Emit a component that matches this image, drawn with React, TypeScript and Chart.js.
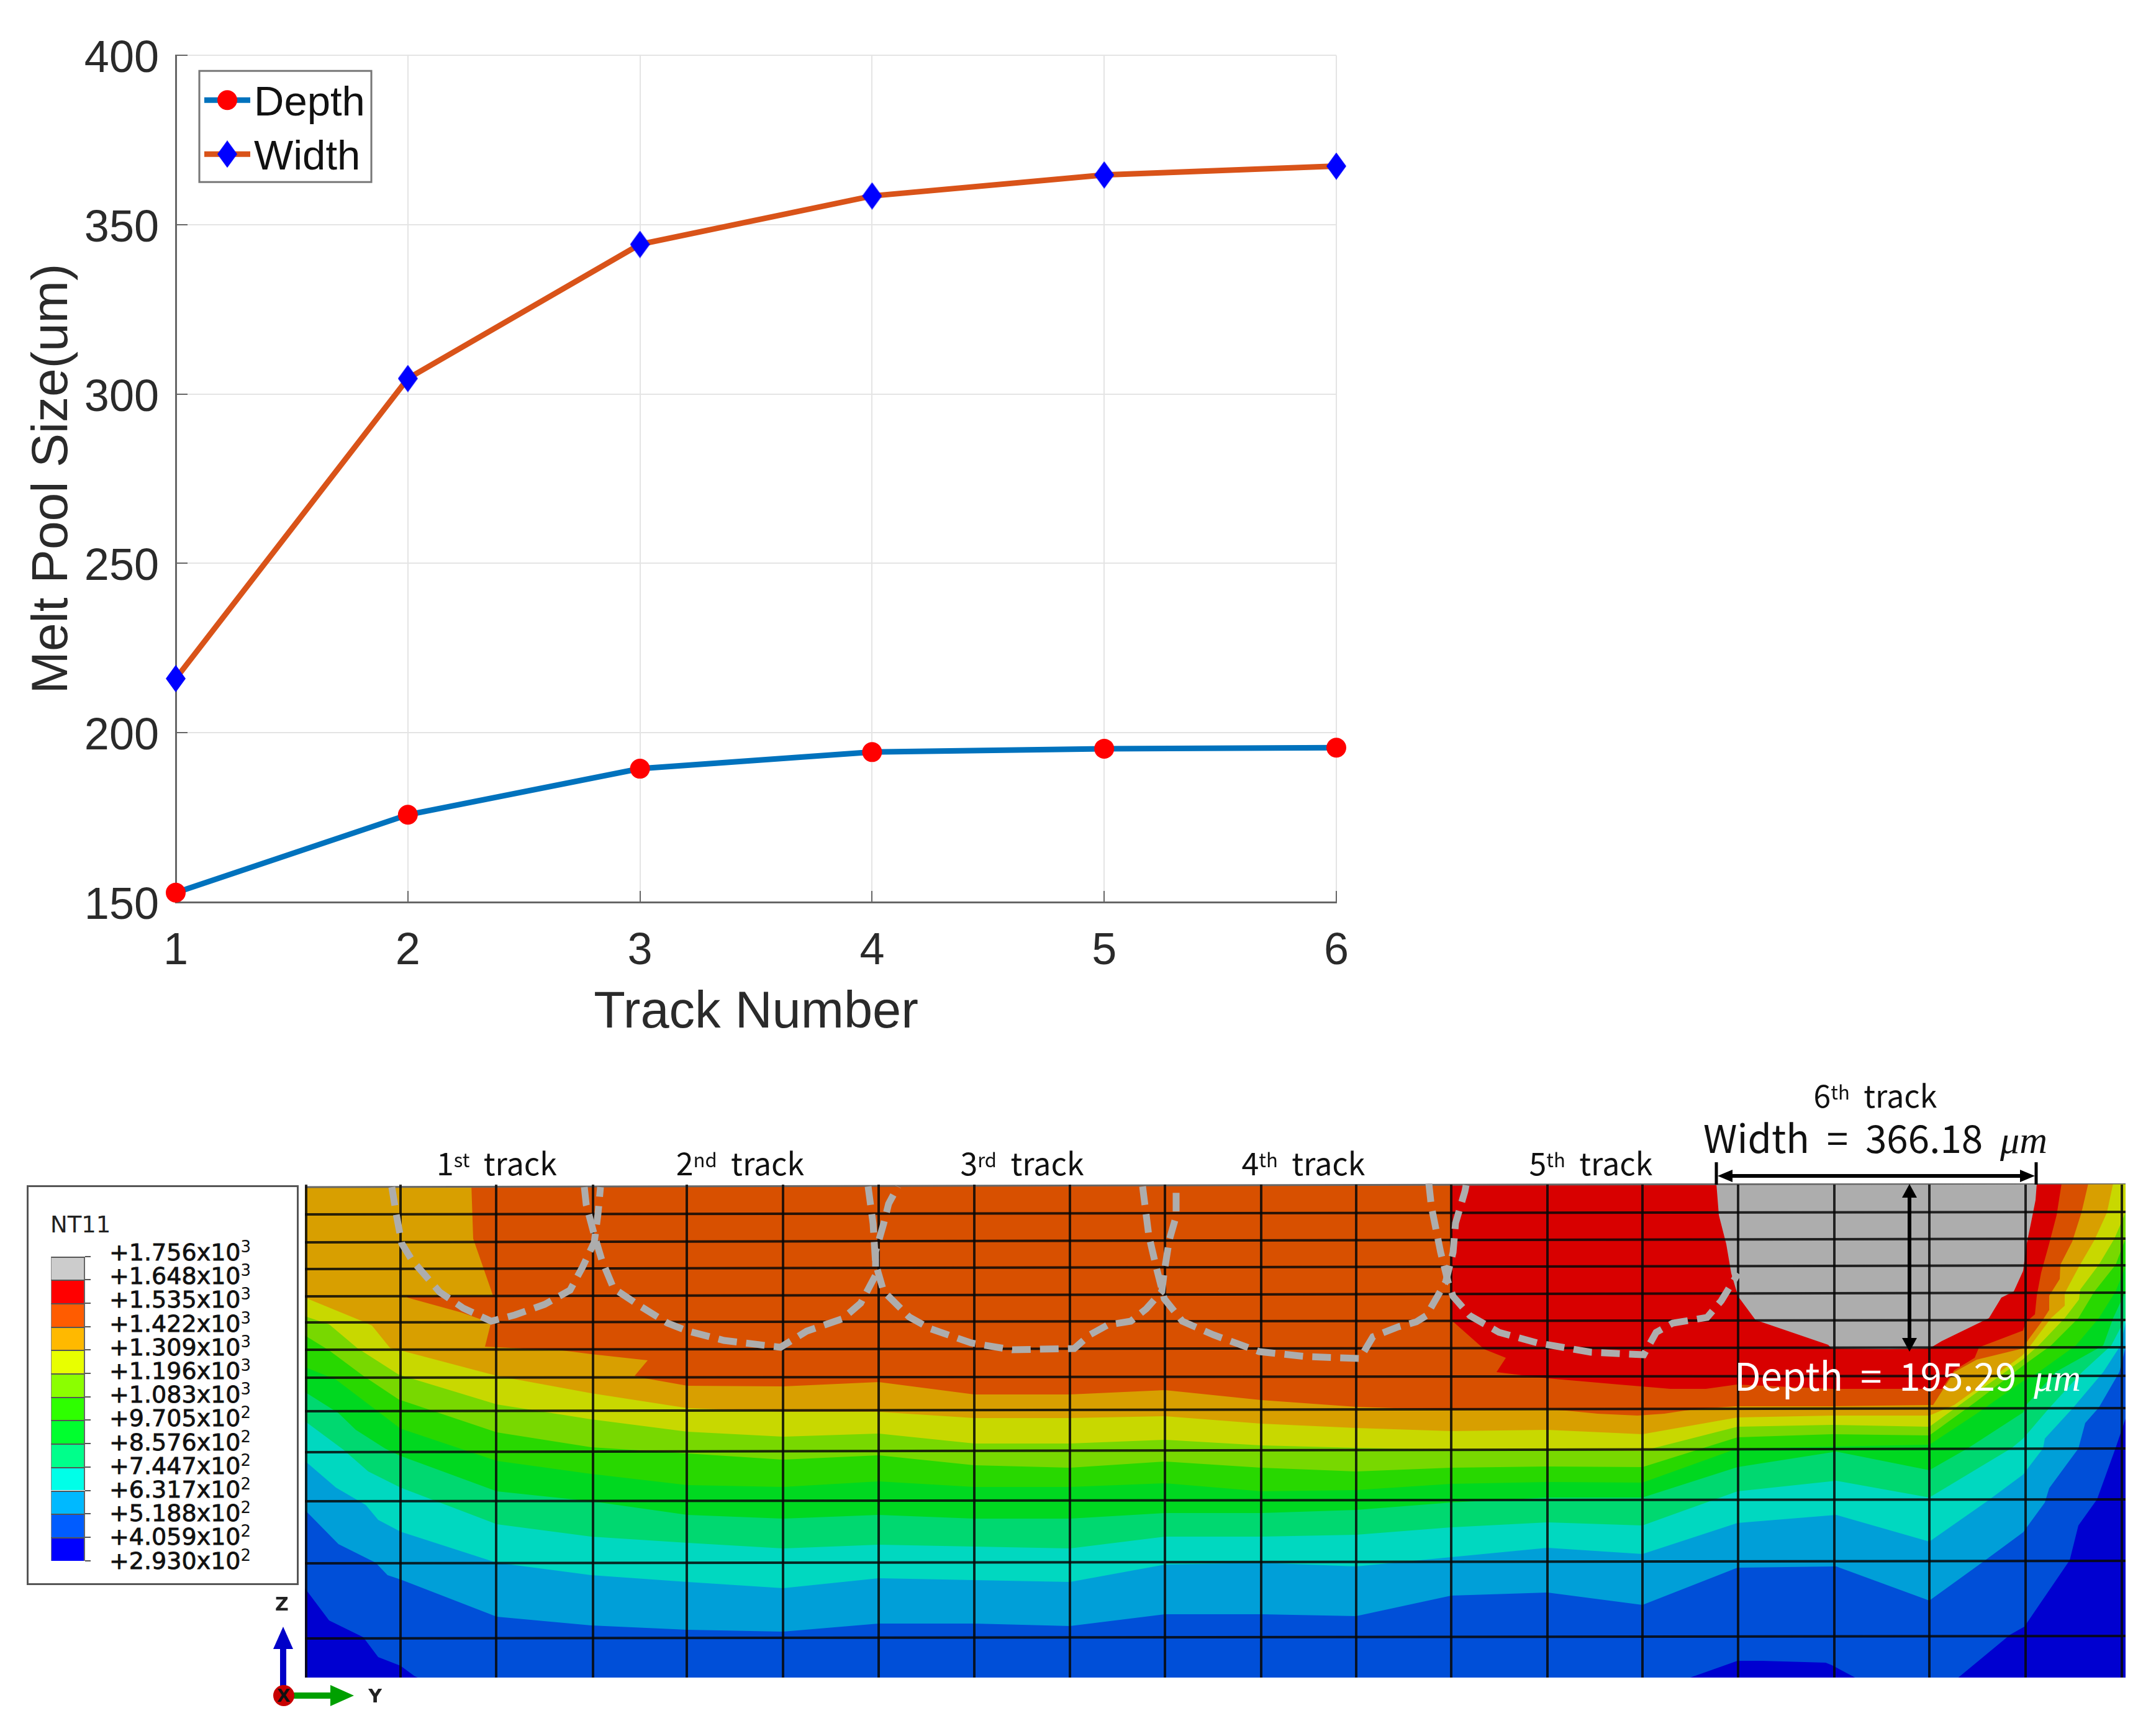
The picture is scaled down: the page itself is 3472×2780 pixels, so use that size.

import React, { useEffect, useRef } from "react";
import { Chart, registerables } from "chart.js";
Chart.register(...registerables);

// ---------- upper line chart ----------
const trackNumbers = ["1", "2", "3", "4", "5", "6"];
const depthValues = [152.8, 175.8, 189.4, 194.3, 195.3, 195.6];
const widthValues = [216, 304.6, 344.2, 358.5, 364.7, 367.3];
const yTicks = [150, 200, 250, 300, 350, 400];
const DEPTH_LINE = "#0072BD";
const WIDTH_LINE = "#D95319";

// ---------- contour section (model Y, model Z) ----------
type P = [number, number];
const meshColumns = [493, 645, 799, 955, 1106, 1261, 1415, 1569, 1723, 1876, 2031, 2184, 2337, 2492, 2645, 2799, 2954, 3107, 3262, 3417];
const meshRowsLeft = [1956, 2001, 2044, 2088, 2130, 2174, 2219, 2273, 2339, 2418, 2518, 2639];
const meshRowsRight = [1952, 1995, 2038, 2082, 2126, 2170, 2216, 2268, 2333, 2415, 2514, 2635];

const bandBase: P[] = [[491, 2702], [3423, 2702]];
const band0: P[] = [[491, 2558], [530, 2610], [585, 2637], [609, 2669], [645, 2683], [668, 2700], [680, 2705], [2715, 2705], [2722, 2702], [2798, 2675], [2837, 2675], [2940, 2678], [2950, 2682], [2993, 2705], [3150, 2705], [3237, 2633], [3260, 2620], [3333, 2513], [3347, 2457], [3377, 2415], [3407, 2332], [3423, 2285]];
const band1: P[] = [[491, 2432], [545, 2487], [605, 2517], [624, 2537], [645, 2544], [800, 2604], [952, 2618], [1107, 2625], [1261, 2628], [1415, 2615], [1569, 2615], [1723, 2619], [1876, 2600], [2031, 2600], [2184, 2603], [2337, 2570], [2492, 2565], [2645, 2585], [2798, 2525], [2957, 2523], [3107, 2578], [3197, 2513], [3258, 2468], [3293, 2420], [3300, 2397], [3347, 2333], [3358, 2292], [3380, 2267], [3413, 2210], [3423, 2170]];
const band2: P[] = [[491, 2353], [541, 2396], [589, 2424], [609, 2448], [645, 2467], [800, 2517], [952, 2537], [1107, 2548], [1261, 2558], [1415, 2542], [1569, 2545], [1723, 2548], [1876, 2520], [2031, 2517], [2184, 2523], [2337, 2508], [2492, 2493], [2645, 2503], [2798, 2453], [2957, 2440], [3107, 2483], [3200, 2418], [3258, 2375], [3290, 2333], [3293, 2317], [3338, 2268], [3387, 2210], [3415, 2167], [3423, 2130]];
const band3: P[] = [[491, 2289], [553, 2335], [593, 2370], [645, 2396], [800, 2455], [952, 2475], [1107, 2485], [1261, 2494], [1415, 2488], [1569, 2491], [1723, 2494], [1876, 2475], [2031, 2475], [2184, 2472], [2337, 2460], [2492, 2452], [2645, 2457], [2798, 2402], [2957, 2385], [3107, 2412], [3240, 2332], [3258, 2317], [3300, 2268], [3353, 2210], [3400, 2167], [3423, 2123]];
const band4: P[] = [[491, 2242], [545, 2276], [573, 2303], [620, 2333], [645, 2345], [800, 2402], [952, 2418], [1107, 2440], [1261, 2446], [1415, 2440], [1569, 2446], [1723, 2446], [1876, 2437], [2031, 2437], [2184, 2432], [2337, 2420], [2492, 2412], [2645, 2412], [2798, 2363], [2957, 2338], [3107, 2368], [3170, 2332], [3258, 2275], [3263, 2263], [3310, 2210], [3387, 2167], [3403, 2123], [3423, 2080]];
const band5: P[] = [[491, 2202], [541, 2222], [612, 2276], [645, 2301], [800, 2353], [952, 2374], [1107, 2392], [1261, 2395], [1415, 2386], [1569, 2395], [1723, 2395], [1876, 2389], [2031, 2402], [2184, 2400], [2337, 2390], [2492, 2387], [2645, 2388], [2798, 2333], [2950, 2330], [3107, 2327], [3183, 2277], [3260, 2223], [3283, 2210], [3343, 2167], [3380, 2123], [3407, 2080], [3423, 2040]];
const band6: P[] = [[491, 2151], [530, 2175], [585, 2216], [642, 2254], [800, 2307], [952, 2331], [1107, 2341], [1261, 2351], [1415, 2344], [1569, 2360], [1723, 2364], [1876, 2354], [2031, 2364], [2184, 2370], [2337, 2364], [2492, 2362], [2645, 2363], [2798, 2315], [2950, 2310], [3107, 2312], [3183, 2257], [3260, 2198], [3303, 2167], [3347, 2123], [3373, 2080], [3407, 2037], [3423, 1995]];
const band7: P[] = [[491, 2120], [530, 2133], [575, 2171], [642, 2214], [800, 2262], [952, 2286], [1107, 2306], [1261, 2314], [1415, 2309], [1569, 2325], [1723, 2325], [1876, 2319], [2031, 2328], [2184, 2332], [2337, 2335], [2492, 2335], [2645, 2337], [2798, 2298], [2950, 2295], [3107, 2298], [3150, 2267], [3183, 2243], [3257, 2190], [3283, 2167], [3325, 2123], [3348, 2093], [3350, 2077], [3380, 2037], [3405, 1995], [3423, 1953]];
const band8: P[] = [[491, 2090], [581, 2127], [599, 2135], [628, 2171], [645, 2175], [800, 2216], [952, 2244], [1107, 2268], [1261, 2274], [1415, 2274], [1569, 2284], [1723, 2284], [1876, 2281], [2031, 2293], [2184, 2300], [2337, 2305], [2492, 2303], [2645, 2310], [2798, 2283], [2950, 2280], [3107, 2280], [3147, 2263], [3183, 2237], [3257, 2183], [3270, 2167], [3303, 2123], [3325, 2103], [3325, 2083], [3348, 2040], [3373, 1997], [3393, 1953], [3403, 1906]];
const band9: P[] = [[759, 1906], [762, 1995], [794, 2087], [790, 2133], [781, 2169], [905, 2175], [952, 2181], [1043, 2191], [1022, 2216], [1039, 2220], [1107, 2232], [1261, 2233], [1415, 2226], [1569, 2246], [1723, 2246], [1876, 2239], [2031, 2255], [2184, 2266], [2337, 2271], [2492, 2270], [2522, 2272], [2573, 2277], [2637, 2280], [2680, 2277], [2713, 2272], [2750, 2268], [2797, 2265], [2950, 2265], [3107, 2263], [3113, 2263], [3147, 2210], [3183, 2190], [3257, 2172], [3267, 2157], [3287, 2130], [3300, 2110], [3300, 2087], [3317, 2060], [3318, 2037], [3337, 2000], [3352, 1953], [3363, 1906]];
const band9Wedge: P[] = [[656, 2090], [743, 2114], [780, 2127], [794, 2133]];
const band10: P[] = [[2337, 1906], [2337, 2126], [2390, 2173], [2425, 2187], [2410, 2210], [2492, 2220], [2550, 2225], [2607, 2230], [2643, 2233], [2690, 2237], [2747, 2237], [2797, 2230], [2950, 2237], [3127, 2237], [3147, 2207], [3180, 2187], [3187, 2170], [3258, 2143], [3262, 2130], [3277, 2117], [3280, 2087], [3287, 2050], [3300, 2003], [3312, 1957], [3320, 1906]];
const band11: P[] = [[2764, 1906], [2768, 1957], [2780, 2004], [2788, 2051], [2799, 2088], [2827, 2126], [2944, 2166], [2950, 2172], [3043, 2173], [3107, 2172], [3127, 2160], [3203, 2123], [3223, 2090], [3243, 2080], [3258, 2047], [3263, 2007], [3270, 1973], [3278, 1933], [3280, 1906]];
const topEdge: P[] = [[491, 1912], [3423, 1906]];

const bandColors = ["#0000D0", "#004FD8", "#009FD8", "#00D8C0", "#00D870", "#00D820", "#28D800", "#78D800", "#C8D800", "#D89F00", "#D85000", "#D80000", "#ADADAD"];

const pool1: P[] = [[631, 1912], [638, 1955], [647, 2003], [663, 2029], [708, 2081], [746, 2107], [791, 2128], [829, 2118], [877, 2101], [918, 2078], [938, 2041], [957, 2001], [963, 1955], [967, 1912]];
const pool2: P[] = [[941, 1912], [944, 1940], [957, 1989], [969, 2029], [988, 2075], [1033, 2105], [1075, 2131], [1108, 2144], [1166, 2159], [1257, 2170], [1299, 2144], [1357, 2124], [1386, 2099], [1410, 2054], [1410, 2016], [1423, 1971], [1431, 1939], [1446, 1911]];
const pool3: P[] = [[1398, 1911], [1406, 1971], [1410, 2035], [1423, 2080], [1464, 2121], [1498, 2140], [1564, 2163], [1630, 2174], [1730, 2172], [1755, 2150], [1784, 2134], [1821, 2128], [1846, 2108], [1871, 2080], [1875, 2048], [1883, 1997], [1894, 1959], [1894, 1911]];
const pool4: P[] = [[1840, 1911], [1850, 1990], [1862, 2041], [1875, 2092], [1904, 2128], [1954, 2150], [2028, 2177], [2103, 2185], [2190, 2188], [2211, 2153], [2252, 2137], [2281, 2129], [2297, 2119], [2328, 2065], [2340, 2017], [2344, 1970], [2359, 1919], [2361, 1909]];
const pool5: P[] = [[2301, 1906], [2305, 1943], [2320, 2017], [2332, 2065], [2340, 2088], [2367, 2119], [2414, 2146], [2476, 2163], [2562, 2178], [2647, 2182], [2667, 2146], [2694, 2131], [2749, 2122], [2772, 2095], [2799, 2051]];
const poolOutlines = [pool1, pool2, pool3, pool4, pool5];

// ---------- contour legend ----------
const legendValues: [string, string][] = [["+1.756", "3"], ["+1.648", "3"], ["+1.535", "3"], ["+1.422", "3"], ["+1.309", "3"], ["+1.196", "3"], ["+1.083", "3"], ["+9.705", "2"], ["+8.576", "2"], ["+7.447", "2"], ["+6.317", "2"], ["+5.188", "2"], ["+4.059", "2"], ["+2.930", "2"]];
const legendSwatches = ["#CCCCCC", "#FF0000", "#FF5C00", "#FFB900", "#E8FF00", "#8BFF00", "#2EFF00", "#00FF2E", "#00FF8B", "#00FFE8", "#00B9FF", "#005CFF", "#0000FF"];
const trackLabels: [string, string, number, number][] = [["1", "st", 800, 1871], ["2", "nd", 1192, 1871], ["3", "rd", 1646, 1871], ["4", "th", 2099, 1871], ["5", "th", 2562, 1871], ["6", "th", 3020, 1762]];

const pts = (a: P[]) => a.map(([x, y]) => ({ x, y }));

function diamondSprite(): HTMLCanvasElement {
  const c = document.createElement("canvas");
  c.width = 32;
  c.height = 44;
  const g = c.getContext("2d")!;
  g.fillStyle = "#0000FF";
  g.beginPath();
  g.moveTo(16, 0);
  g.lineTo(32, 22);
  g.lineTo(16, 44);
  g.lineTo(0, 22);
  g.closePath();
  g.fill();
  return c;
}

const insideLegend = {
  id: "insideLegend",
  afterDatasetsDraw(chart: any) {
    const g = chart.ctx;
    const a = chart.chartArea;
    const x0 = a.left + 38, y0 = a.top + 25, w = 277, h = 179;
    g.save();
    g.fillStyle = "#fff";
    g.strokeStyle = "#777";
    g.lineWidth = 3;
    g.fillRect(x0, y0, w, h);
    g.strokeRect(x0, y0, w, h);
    chart.data.datasets.forEach((ds: any, i: number) => {
      const y = y0 + 47 + i * 87;
      g.strokeStyle = ds.borderColor;
      g.lineWidth = ds.borderWidth;
      g.beginPath();
      g.moveTo(x0 + 8, y);
      g.lineTo(x0 + 82, y);
      g.stroke();
      if (ds.pointStyle === "circle") {
        g.fillStyle = ds.pointBackgroundColor;
        g.beginPath();
        g.arc(x0 + 45, y, ds.pointRadius, 0, Math.PI * 2);
        g.fill();
      } else {
        g.drawImage(ds.pointStyle, x0 + 45 - 16, y - 22);
      }
      g.fillStyle = "#111";
      g.font = '67px "Liberation Sans"';
      g.textBaseline = "middle";
      g.textAlign = "left";
      g.fillText(ds.label, x0 + 88, y + 6);
    });
    g.restore();
  },
};

function Txt(props: { x: number; y: number; size: number; color?: string; children: React.ReactNode; family?: string }) {
  return (
    <div
      style={{
        position: "absolute",
        left: props.x,
        top: props.y,
        transform: "translate(-50%,-50%)",
        fontFamily: props.family || '"Noto Sans CJK KR"',
        fontSize: props.size,
        lineHeight: 1,
        color: props.color || "#111",
        whiteSpace: "pre",
      }}
    >
      {props.children}
    </div>
  );
}

const supStyle: React.CSSProperties = { fontSize: "0.62em", position: "relative", top: "-0.42em", lineHeight: 0 };
const muStyle: React.CSSProperties = { fontFamily: '"Liberation Serif"', fontStyle: "italic" };

export default function App() {
  const lineRef = useRef<HTMLCanvasElement>(null);
  const fieldRef = useRef<HTMLCanvasElement>(null);

  useEffect(() => {
    const diamond = diamondSprite();
    const lineChart = new Chart(lineRef.current!, {
      type: "line",
      data: {
        labels: trackNumbers,
        datasets: [
          { label: "Depth", data: depthValues, borderColor: DEPTH_LINE, borderWidth: 9, pointStyle: "circle", pointRadius: 16, pointBackgroundColor: "#FF0000", pointBorderWidth: 0, tension: 0 },
          { label: "Width", data: widthValues, borderColor: WIDTH_LINE, borderWidth: 9, pointStyle: diamond as any, pointRadius: 16, pointBackgroundColor: "#0000FF", pointBorderWidth: 0, tension: 0 },
        ],
      },
      options: {
        animation: false,
        responsive: false,
        maintainAspectRatio: false,
        devicePixelRatio: 1,
        clip: false as any,
        layout: { padding: { top: 87, right: 148, left: 0, bottom: 0 } },
        plugins: { legend: { display: false }, tooltip: { enabled: false }, title: { display: false } },
        scales: {
          x: {
            type: "category",
            offset: false,
            afterFit: (s: any) => { s.height = 247; },
            grid: { color: "#E4E4E4", lineWidth: 2, tickColor: "#666", tickLength: -18, tickWidth: 2 },
            border: { color: "#666", width: 3 },
            ticks: { color: "#2A2A2A", font: { family: '"Liberation Sans"', size: 72 }, padding: 55, maxRotation: 0, autoSkip: false },
            title: { display: true, text: "Track Number", color: "#2A2A2A", font: { family: '"Liberation Sans"', size: 83 }, padding: { top: 0, bottom: 18 } },
          },
          y: {
            min: 150,
            max: 400,
            afterBuildTicks: (s: any) => { s.ticks = yTicks.map((value) => ({ value })); },
            afterFit: (s: any) => { s.width = 283; },
            grid: { color: "#E4E4E4", lineWidth: 2, tickColor: "#666", tickLength: -19, tickWidth: 2 },
            border: { color: "#666", width: 3 },
            ticks: { color: "#2A2A2A", font: { family: '"Liberation Sans"', size: 72 }, padding: 46, labelOffset: 7 },
            title: { display: true, text: "Melt Pool Size(um)", color: "#2A2A2A", font: { family: '"Liberation Sans"', size: 82 }, padding: { top: 36, bottom: 0 } },
          },
        },
      },
      plugins: [insideLegend],
    } as any);

    const datasets: any[] = [];
    const bands = [bandBase, band0, band1, band2, band3, band4, band5, band6, band7, band8, band9, band10, band11];
    bands.forEach((b, i) => {
      datasets.push({ data: pts(b), fill: "end", backgroundColor: bandColors[i], borderWidth: 0, pointRadius: 0, tension: 0 });
      if (b === band9) {
        datasets.push({ data: pts(band9Wedge), fill: { value: 2087 }, backgroundColor: bandColors[i], borderWidth: 0, pointRadius: 0, tension: 0 });
      }
    });
    datasets.push({ data: pts(topEdge), fill: "end", backgroundColor: "#FFFFFF", borderColor: "#666", borderWidth: 3, pointRadius: 0, tension: 0 });
    meshRowsLeft.forEach((yl, i) => {
      datasets.push({ data: [{ x: 491, y: yl }, { x: 3423, y: meshRowsRight[i] }], borderColor: "rgba(8,8,8,0.85)", borderWidth: 4, pointRadius: 0, fill: false });
    });
    meshColumns.forEach((x) => {
      datasets.push({ data: [{ x, y: 1908 }, { x, y: 2702 }], borderColor: "rgba(8,8,8,0.85)", borderWidth: 4, pointRadius: 0, fill: false });
    });
    poolOutlines.forEach((o) => {
      datasets.push({ data: pts(o), borderColor: "#ADADAD", borderWidth: 11, borderDash: [30, 15], pointRadius: 0, fill: false, tension: 0, borderCapStyle: "butt" });
    });
    const n = datasets.length;
    datasets.forEach((d, i) => { d.order = n - i; });

    const fieldChart = new Chart(fieldRef.current!, {
      type: "line",
      data: { datasets },
      options: {
        animation: false,
        responsive: false,
        maintainAspectRatio: false,
        devicePixelRatio: 1,
        layout: { padding: 0 },
        plugins: { legend: { display: false }, tooltip: { enabled: false } },
        scales: {
          x: { type: "linear", min: 491, max: 3423, display: false },
          y: { type: "linear", min: 1906, max: 2702, reverse: true, display: false },
        },
      },
    } as any);

    return () => {
      lineChart.destroy();
      fieldChart.destroy();
    };
  }, []);

  const swTop = 2023.5;
  const swH = 37.7;

  return (
    <div style={{ position: "absolute", left: 0, top: 0, width: 3472, height: 2780, background: "#fff", overflow: "hidden" }}>
      <canvas ref={lineRef} width={2300} height={1700} style={{ position: "absolute", left: 0, top: 0, display: "block" }} />
      <canvas ref={fieldRef} width={2932} height={796} style={{ position: "absolute", left: 491, top: 1906, display: "block" }} />

      <div style={{ position: "absolute", left: 43, top: 1909, width: 438, height: 644, boxSizing: "border-box", border: "3px solid #555", background: "#fff" }} />
      {legendSwatches.map((c, i) => (
        <div key={c} style={{ position: "absolute", left: 82, top: swTop + i * swH, width: 55, height: swH, boxSizing: "border-box", background: c, borderTop: "2px solid #555", borderLeft: "1px solid #888", borderRight: "2px solid #666" }} />
      ))}
      {legendValues.map((_, i) => (
        <div key={i} style={{ position: "absolute", left: 137, top: swTop + i * swH - 1, width: 9, height: 2, background: "#555" }} />
      ))}
      <div style={{ position: "absolute", left: 81, top: 1972, transform: "translateY(-50%)", fontFamily: '"DejaVu Sans"', fontSize: 37, lineHeight: 1, color: "#222" }}>NT11</div>
      {legendValues.map(([m, e], i) => (
        <div key={m} style={{ position: "absolute", left: 176, top: 2017 + i * 38.2, transform: "translateY(-50%)", fontFamily: '"DejaVu Sans"', fontSize: 38, lineHeight: 1, color: "#111", whiteSpace: "pre", WebkitTextStroke: "0.8px #111" }}>
          {m}x10<span style={{ fontSize: 26, position: "relative", top: -13, WebkitTextStroke: "0" }}>{e}</span>
        </div>
      ))}

      <svg width={3472} height={2780} style={{ position: "absolute", left: 0, top: 0, pointerEvents: "none" }}>
        <rect x={451} y={2650} width={10} height={70} fill="#0000C8" />
        <polygon points="456,2620 440,2656 472,2656" fill="#0000C8" />
        <rect x={470} y={2726} width={70} height={10} fill="#00A000" />
        <polygon points="570,2731 532,2714 532,2748" fill="#00A000" />
        <circle cx={457} cy={2731} r={17} fill="#C80000" />
        <text x={457} y={2741} textAnchor="middle" fontFamily="DejaVu Sans" fontWeight="bold" fontSize={28} fill="#111">X</text>
        <text x={454} y={2594} textAnchor="middle" fontFamily="DejaVu Sans" fontWeight="bold" fontSize={30} fill="#222">Z</text>
        <text x={604} y={2742} textAnchor="middle" fontFamily="DejaVu Sans" fontWeight="bold" fontSize={30} fill="#222">Y</text>

        <line x1={2764} y1={1872} x2={2764} y2={1908} stroke="#000" strokeWidth={5} />
        <line x1={3279} y1={1872} x2={3279} y2={1908} stroke="#000" strokeWidth={5} />
        <line x1={2780} y1={1894} x2={3263} y2={1894} stroke="#000" strokeWidth={6} />
        <polygon points="2766,1894 2790,1884 2790,1904" fill="#000" />
        <polygon points="3277,1894 3253,1884 3253,1904" fill="#000" />
        <line x1={3075} y1={1925} x2={3075} y2={2160} stroke="#000" strokeWidth={6} />
        <polygon points="3075,1907 3063,1929 3087,1929" fill="#000" />
        <polygon points="3075,2177 3063,2155 3087,2155" fill="#000" />
      </svg>

      {trackLabels.map(([n, s, x, y]) => (
        <Txt key={n} x={x} y={y} size={50}>
          {n}<span style={supStyle}>{s}</span>{"  track"}
        </Txt>
      ))}
      <Txt x={3020} y={1833} size={62}>
        {"Width  =  366.18  "}<span style={muStyle}>μm</span>
      </Txt>
      <Txt x={3072} y={2216} size={62} color="#FFFFFF">
        {"Depth  =  195.29  "}<span style={muStyle}>μm</span>
      </Txt>
    </div>
  );
}
